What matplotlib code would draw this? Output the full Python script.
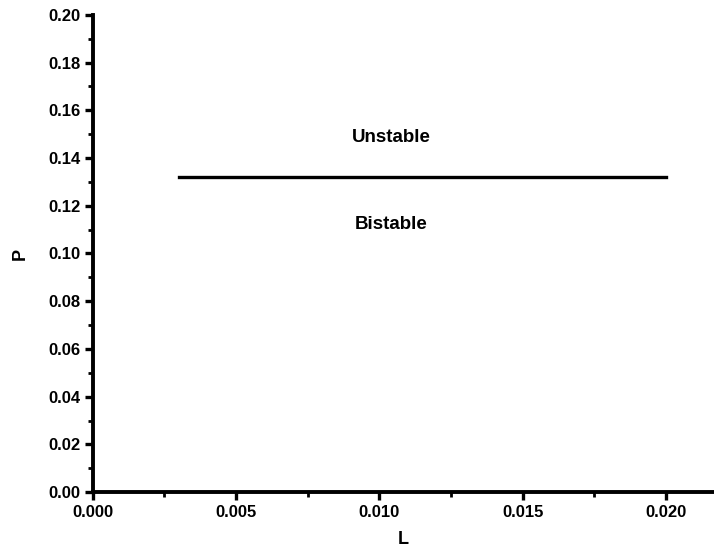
import matplotlib
matplotlib.use("Agg")
import matplotlib.pyplot as plt
from matplotlib.ticker import MultipleLocator

plt.rcParams['font.family'] = ['Liberation Sans', 'DejaVu Sans']
plt.rcParams['font.weight'] = 'bold'

# boundary between regions
L = [0.003, 0.020]
P = [0.132, 0.132]

labels = ["Unstable", "Bistable"]
label_x = [0.0104, 0.0104]
label_y = [0.1484, 0.112]

fig = plt.figure(figsize=(7.14, 5.48), dpi=100)
ax = fig.add_axes([0.130, 0.102, 0.870, 0.871])

ax.plot(L, P, color="black", linewidth=2.4)
for t, x, y in zip(labels, label_x, label_y):
    ax.text(x, y, t, ha="center", va="center", fontsize=13.5, fontweight="heavy")

ax.set_xlim(0, 0.02167)
ax.set_ylim(0, 0.2)
ax.xaxis.set_major_locator(MultipleLocator(0.005))
ax.xaxis.set_minor_locator(MultipleLocator(0.0025))
ax.yaxis.set_major_locator(MultipleLocator(0.02))
ax.yaxis.set_minor_locator(MultipleLocator(0.01))
ax.xaxis.set_major_formatter(plt.FuncFormatter(lambda v, p: "%.3f" % v))
ax.yaxis.set_major_formatter(plt.FuncFormatter(lambda v, p: "%.2f" % v))

for s in ["top", "right"]:
    ax.spines[s].set_visible(False)
for s in ["left", "bottom"]:
    ax.spines[s].set_linewidth(2.8)

ax.tick_params(which="major", direction="out", length=6, width=2.4, labelsize=12, pad=3)
ax.tick_params(which="minor", direction="out", length=3.5, width=2.0)
for lab in ax.get_xticklabels() + ax.get_yticklabels():
    lab.set_fontweight("bold")

ax.set_xlabel("L", fontsize=13, fontweight="bold", labelpad=8)
ax.set_ylabel("P", fontsize=13, fontweight="bold", labelpad=14)

fig.savefig("out.png", dpi=100)
